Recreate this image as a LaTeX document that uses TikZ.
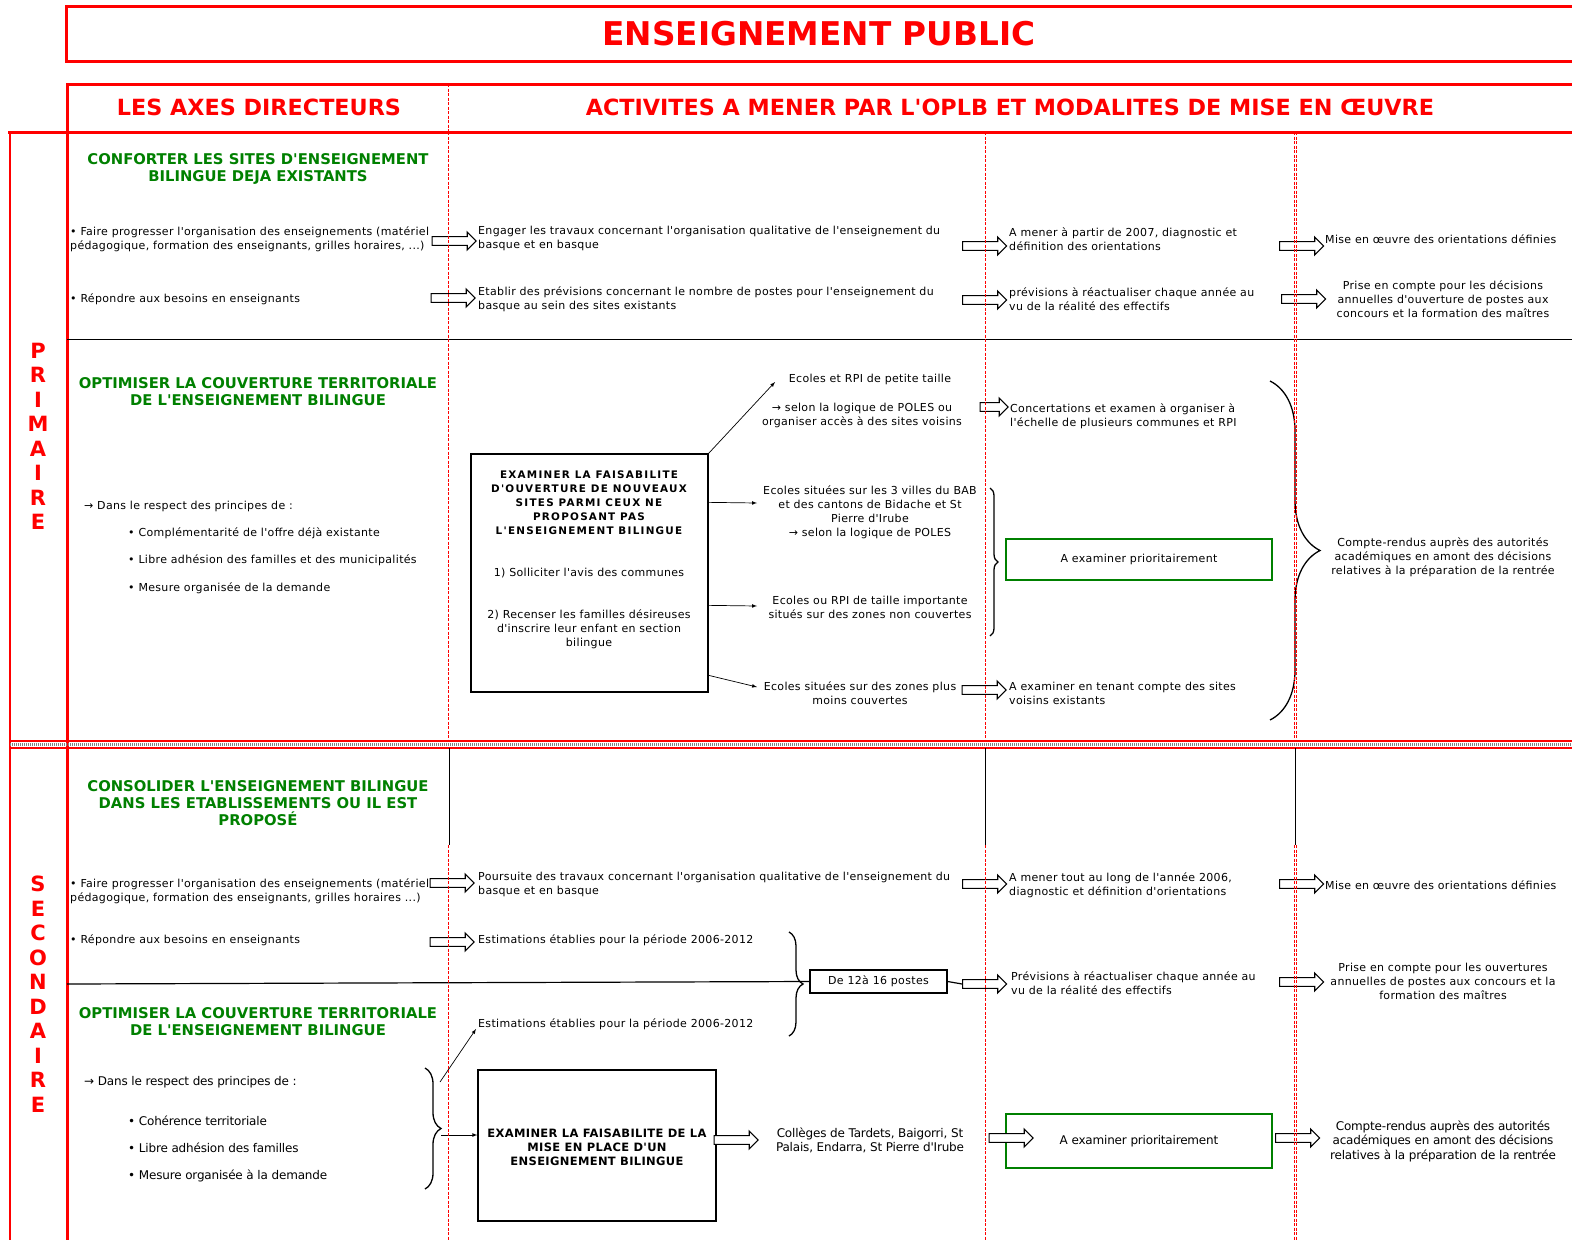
\documentclass[tikz,border=0pt]{standalone}
\usepackage{fontspec}
\setmainfont{DejaVu Sans}[Ligatures=TeXOff]
\newfontfamily\bodyfont[LetterSpace=3,Ligatures=TeXOff]{DejaVu Sans}
\newfontfamily\narrowfont[LetterSpace=-1.5,Ligatures=TeXOff]{DejaVu Sans}
\newfontfamily\spacedfont[LetterSpace=12,Ligatures=TeXOff]{DejaVu Sans}
\newfontfamily\narrowspaced[LetterSpace=3,Ligatures=TeXOff]{DejaVu Sans}
\usetikzlibrary{shapes.arrows,decorations.pathreplacing}
\definecolor{hdred}{RGB}{255,0,0}
\definecolor{axegreen}{RGB}{0,128,0}
\tikzset{
  txt/.style={font=\bodyfont\fontsize{11}{14}\selectfont, align=left, anchor=west, inner sep=0pt},
  ctxt/.style={font=\bodyfont\fontsize{11}{14}\selectfont, align=center, inner sep=0pt},
  ntxt/.style={font=\narrowfont\fontsize{12}{14.5}\selectfont, align=left, anchor=west, inner sep=0pt},
  nctxt/.style={font=\narrowfont\fontsize{12}{14.5}\selectfont, align=center, inner sep=0pt},
  axe/.style={font=\bfseries\fontsize{14.8}{17}\selectfont, text=axegreen, align=center, inner sep=0pt},
  colhead/.style={font=\bfseries\fontsize{22.3}{24}\selectfont, text=hdred, inner sep=0pt},
  vlabel/.style={font=\bfseries\fontsize{21}{24.5}\selectfont, text=hdred, align=center, inner sep=0pt},
  boxhead/.style={font=\spacedfont\bfseries\fontsize{10.4}{14}\selectfont, align=center, inner sep=0pt},
  nboxhead/.style={font=\narrowspaced\bfseries\fontsize{11.5}{14}\selectfont, align=center, inner sep=0pt},
  bigarrow/.style={single arrow, draw, fill=white, line width=1.1pt, minimum height=44pt, inner xsep=0pt, inner ysep=3.8pt, single arrow head extend=4.6pt, single arrow head indent=0pt},
  examine/.style={draw, line width=1.3pt, inner sep=0pt},
  greenbox/.style={draw=axegreen, line width=2.6pt, minimum width=266pt, inner sep=0pt},
  sep/.style={hdred, dash pattern=on 3pt off 1.5pt, line width=0.7pt},
  redrule/.style={hdred, line width=3pt},
  thin arrow/.style={->, >=latex, line width=0.7pt},
  curly/.style={decorate, decoration={brace, amplitude=#1}, line width=1.3pt},
}
\begin{document}
\begin{tikzpicture}[x=1pt,y=-1pt]
  \useasboundingbox (0,0) rectangle (1572,1240);
  \draw[redrule] (1572,6) -- (66,6) -- (66,61) -- (1572,61);
  \draw[redrule] (1572,84) -- (67,84) -- (67,132);
  \draw[redrule] (8,132) -- (1572,132);
  \draw[hdred, line width=2pt] (10,132) -- (10,1240);
  \draw[redrule] (67,132) -- (67,1240);
  \draw[line width=1pt] (67,339) -- (1572,339);
  \draw[hdred, line width=1.2pt] (10,741) -- (1572,741);
  \draw[gray, line width=3.5pt, dash pattern=on 1pt off 1pt] (10,744.5) -- (1572,744.5);
  \draw[hdred, line width=1.2pt] (10,748) -- (1572,748);
  \draw[line width=0.6pt] (449,748) -- (449,845);
  \draw[line width=0.6pt] (985,748) -- (985,845);
  \draw[line width=0.6pt] (1295,748) -- (1295,845);

  \node[font=\bfseries\fontsize{32.7}{34}\selectfont, text=hdred, inner sep=0pt] (titre) at (819,34) {ENSEIGNEMENT PUBLIC};
  \node[colhead] (axes) at (259,107) {LES AXES DIRECTEURS};
  \node[colhead] (activites) at (1010,107) {ACTIVITES A MENER PAR L'OPLB ET MODALITES DE MISE EN ŒUVRE};
  \node[vlabel] (primaire) at (38,436.5) {P\\R\\I\\M\\A\\I\\R\\E};
  \node[vlabel] (secondaire) at (38,994) {S\\E\\C\\O\\N\\D\\A\\I\\R\\E};

  \node[axe] (conforter) at (258,168.5) {CONFORTER LES SITES D'ENSEIGNEMENT\\BILINGUE DEJA EXISTANTS};
  \node[txt] (faire1) at (70,239) {• Faire progresser  l'organisation des enseignements (matériel\\pédagogique, formation des enseignants, grilles horaires, ...)};
  \node[txt] (besoins1) at (70,299) {• Répondre aux besoins en enseignants};
  \node[txt] (engager) at (478,238.5) {Engager les travaux concernant l'organisation qualitative de l'enseignement du\\basque et en basque};
  \node[txt] (etablir) at (478,299) {Etablir des prévisions concernant le nombre de postes pour l'enseignement du\\basque au sein des sites existants};
  \node[txt] (mener1) at (1009,239) {A mener à partir de 2007, diagnostic et\\définition des orientations};
  \node[txt] (prev1) at (1009,299) {prévisions à réactualiser chaque année  au\\vu de la réalité des effectifs};
  \node[txt] (mise1) at (1325,239) {Mise en œuvre des orientations définies};
  \node[ctxt] (prise1) at (1443,299) {Prise en compte pour les décisions\\annuelles d'ouverture de postes aux\\concours et la formation des maîtres};
  \node[bigarrow] (arA1) at (452,241) {};
  \node[bigarrow] (arA2) at (451,298) {};
  \node[bigarrow] (arB1) at (982.5,246) {};
  \node[bigarrow] (arB2) at (982.5,300) {};
  \node[bigarrow] (arC1) at (1299.5,246) {};
  \node[bigarrow] (arC2) at (1301.5,299) {};

  \node[axe] (optim1) at (258,391.5) {OPTIMISER LA COUVERTURE TERRITORIALE\\DE L'ENSEIGNEMENT BILINGUE};
  \node[txt] (respect1) at (84,506) {→ Dans le respect des principes de :};
  \node[txt] (compl) at (128,533) {• Complémentarité de l'offre déjà existante};
  \node[txt] (libre1) at (128,560) {• Libre adhésion des familles et des municipalités};
  \node[txt] (mesure1) at (128,588) {• Mesure organisée de la demande};
  \node[examine, minimum width=237pt, minimum height=238pt] (faisab) at (589.5,573) {};
  \node[boxhead] (faisabtitre) at (589,503) {EXAMINER LA FAISABILITE\\D'OUVERTURE DE NOUVEAUX\\SITES PARMI CEUX NE\\PROPOSANT PAS\\L'ENSEIGNEMENT BILINGUE};
  \node[ctxt] (solliciter) at (589,573) {1) Solliciter l'avis des communes};
  \node[ctxt] (recenser) at (589,629) {2) Recenser les familles désireuses\\d'inscrire leur enfant en section\\bilingue};
  \node[ctxt] (petite) at (870,379) {Ecoles et RPI de petite taille};
  \node[ctxt] (poles1) at (862,415.5) {→ selon la logique de POLES ou\\organiser accès à des sites voisins};
  \node[ctxt] (bab) at (870,512.5) {Ecoles situées sur les 3 villes du BAB\\et des cantons de Bidache et St\\Pierre d'Irube\\→ selon la logique de POLES};
  \node[ctxt] (importante) at (870,607) {Ecoles ou RPI de taille importante\\situés sur des zones non couvertes};
  \node[ctxt] (zones) at (860,693.5) {Ecoles situées sur des zones plus\\moins couvertes};
  \coordinate (tpetite) at (775,382);
  \coordinate (tbab) at (757,503);
  \coordinate (timportante) at (757,606);
  \coordinate (tzones) at (757,687);
  \draw[thin arrow] (faisab.north east) -- (tpetite);
  \draw[thin arrow] ([yshift=-49pt]faisab.north east) -- (tbab);
  \draw[thin arrow] ([yshift=-152pt]faisab.north east) -- (timportante);
  \draw[thin arrow] ([yshift=-222pt]faisab.north east) -- (tzones);
  \node[txt] (concert) at (1010,416) {Concertations et examen à organiser à\\l'échelle de plusieurs communes et RPI};
  \node[greenbox, minimum height=41pt, ctxt] (prio1) at (1139,559.5) {A examiner prioritairement};
  \node[txt] (tenant) at (1009,693.5) {A examiner en tenant compte des sites\\voisins existants};
  \node[ctxt] (compte1) at (1443,557) {Compte-rendus auprès des autorités\\académiques en amont des décisions\\relatives à la préparation de la rentrée};
  \node[bigarrow, minimum height=28pt] (arD1) at (992,407) {};
  \node[bigarrow] (arD2) at (982,690) {};
  \draw[curly=8] (990,488) -- (990,636);
  \draw[curly=50] (1270,381) -- (1270,720);

  \node[axe] (consolider) at (258,803.5) {CONSOLIDER L'ENSEIGNEMENT BILINGUE\\DANS LES ETABLISSEMENTS OU IL EST\\PROPOSÉ};
  \node[txt] (faire2) at (70,891) {• Faire progresser l'organisation des enseignements (matériel\\pédagogique, formation des enseignants, grilles horaires ...)};
  \node[txt] (besoins2) at (70,940) {• Répondre aux besoins en enseignants};
  \node[txt] (poursuite) at (478,884.5) {Poursuite des travaux concernant l'organisation qualitative de l'enseignement du\\basque et en basque};
  \node[txt] (estim1) at (478,940) {Estimations établies pour la période 2006-2012};
  \node[txt] (estim2) at (478,1024) {Estimations établies pour la période 2006-2012};
  \node[txt] (mener2) at (1009,885) {A mener tout au long de l'année 2006,\\diagnostic et définition d'orientations};
  \node[txt] (prev2) at (1011,983) {Prévisions à réactualiser chaque année au\\vu de la réalité des effectifs};
  \node[txt] (mise2) at (1325,885) {Mise en œuvre des orientations définies};
  \node[ctxt] (prise2) at (1443,981) {Prise en compte pour les ouvertures\\annuelles de postes aux concours et la\\formation des maîtres};
  \node[examine, ctxt, minimum width=137pt, minimum height=23pt] (postes) at (878.5,981.5) {De 12à 16 postes};
  \node[bigarrow] (arE1) at (450,883) {};
  \node[bigarrow] (arE2) at (450,942) {};
  \node[bigarrow] (arF1) at (982.5,884) {};
  \node[bigarrow] (arF2) at (982.5,984) {};
  \node[bigarrow] (arG1) at (1299.5,884) {};
  \node[bigarrow] (arG2) at (1299.5,982) {};
  \draw[line width=1.2pt] (67,984) -- (postes.west);
  \draw[line width=1.2pt] (postes.east) -- (arF2.west);
  \draw[curly=14] (789,932) -- (789,1036);

  \node[axe] (optim2) at (258,1021.5) {OPTIMISER LA COUVERTURE TERRITORIALE\\DE L'ENSEIGNEMENT BILINGUE};
  \node[ntxt] (respect2) at (84,1082) {→ Dans le respect des principes de :};
  \node[ntxt] (coher) at (128,1121) {• Cohérence territoriale};
  \node[ntxt] (libre2) at (128,1148) {• Libre adhésion des familles};
  \node[ntxt] (mesure2) at (128,1176) {• Mesure organisée à la demande};
  \draw[curly=16] (425,1068) -- (425,1189);
  \coordinate (bracetop) at (440,1082);
  \coordinate (bracetip) at (441,1135);
  \coordinate (testim2) at (476,1029);
  \node[examine, minimum width=238pt, minimum height=151pt] (faisab2) at (597,1145.5) {};
  \node[nboxhead] (faisab2titre) at (597,1147) {EXAMINER LA FAISABILITE DE LA\\MISE EN PLACE D'UN\\ENSEIGNEMENT BILINGUE};
  \draw[thin arrow] (bracetop) -- (testim2);
  \draw[thin arrow] (bracetip) -- (faisab2.west |- bracetip);
  \node[nctxt] (colleges) at (870,1140.5) {Collèges de Tardets, Baigorri, St\\Palais, Endarra, St Pierre d'Irube};
  \node[greenbox, minimum height=54pt, nctxt] (prio2) at (1139,1141) {A examiner prioritairement};
  \node[nctxt] (compte2) at (1443,1141) {Compte-rendus auprès des autorités\\académiques en amont des décisions\\relatives à la préparation de la rentrée};
  \node[bigarrow] (arH) at (734,1140) {};
  \node[bigarrow] (arI) at (1009,1138) {};
  \node[bigarrow] (arJ) at (1295.5,1138) {};

  \draw[sep] (448,84) -- (448,132);
  \draw[sep] (448,132) -- (448,741);
  \draw[sep] (985,132) -- (985,741);
  \draw[sep] (1294,132) -- (1294,741);
  \draw[sep] (1296.5,132) -- (1296.5,741);
  \draw[sep] (448,845) -- (448,1240);
  \draw[sep] (985,845) -- (985,1240);
  \draw[sep] (1294,845) -- (1294,1240);
  \draw[sep] (1296.5,845) -- (1296.5,1240);
\end{tikzpicture}
\end{document}
